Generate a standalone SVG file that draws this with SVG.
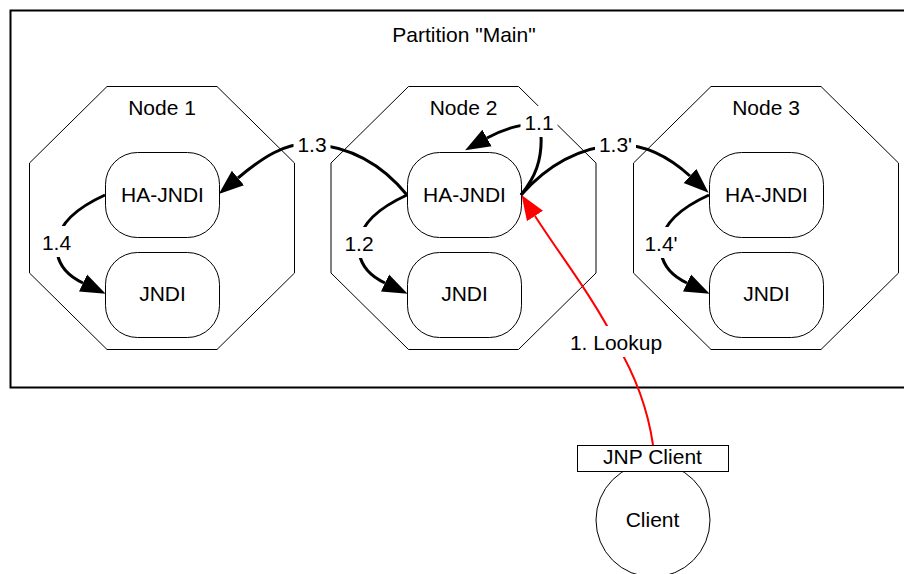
<svg xmlns="http://www.w3.org/2000/svg" width="904" height="574" viewBox="0 0 904 574">
<style>
text{font-family:"Liberation Sans",Arial,Helvetica,sans-serif;font-size:21px;fill:#000;text-anchor:middle}
.oct{fill:#fff;stroke:#000;stroke-width:1}
.box{fill:#fff;stroke:#000;stroke-width:1}
.edge{fill:none;stroke:#000;stroke-width:3}
.red{fill:none;stroke:#ff0000;stroke-width:2}
.lbl{fill:#fff;stroke:none}
</style>
<defs>
<marker id="ah" viewBox="0 -10 26 20" markerWidth="26" markerHeight="20" refX="0" refY="0" orient="auto" markerUnits="userSpaceOnUse"><path d="M0,-9.5 L25,0 L0,9.5 z" fill="#000"/></marker>
<marker id="ahr" viewBox="0 -10 26 20" markerWidth="26" markerHeight="20" refX="0" refY="0" orient="auto" markerUnits="userSpaceOnUse"><path d="M0,-9.5 L25,0 L0,9.5 z" fill="#ff0000"/></marker>
</defs>
<rect width="904" height="574" fill="#fff"/>
<g id="partition">
<rect x="10.5" y="10.5" width="1000" height="377" fill="#fff" stroke="#000" stroke-width="2"/>
<text x="464" y="42">Partition "Main"</text>
</g>
<g id="node1">
<polygon class="oct" points="107,86.5 217,86.5 294.5,163 294.5,273 217,349.5 107,349.5 29.5,273 29.5,163"/>
<text x="162" y="115">Node 1</text>
</g>
<g id="node2">
<polygon class="oct" points="408.5,86.5 518.5,86.5 596,163 596,273 518.5,349.5 408.5,349.5 331,273 331,163"/>
<text x="463.5" y="115">Node 2</text>
</g>
<g id="node3">
<polygon class="oct" points="711,86.5 821,86.5 898.5,163 898.5,273 821,349.5 711,349.5 633.5,273 633.5,163"/>
<text x="766" y="115">Node 3</text>
</g>
<g id="n1-hajndi"><rect class="box" x="105.5" y="152.5" width="114" height="85" rx="32" ry="32"/><text x="162.5" y="202">HA-JNDI</text></g>
<g id="n1-jndi"><rect class="box" x="105.5" y="252.5" width="114" height="85" rx="32" ry="32"/><text x="162.5" y="301">JNDI</text></g>
<g id="n2-hajndi"><rect class="box" x="407.5" y="152.5" width="114" height="85" rx="32" ry="32"/><text x="464.5" y="202">HA-JNDI</text></g>
<g id="n2-jndi"><rect class="box" x="407.5" y="252.5" width="114" height="85" rx="32" ry="32"/><text x="464.5" y="301">JNDI</text></g>
<g id="n3-hajndi"><rect class="box" x="709.5" y="152.5" width="114" height="85" rx="32" ry="32"/><text x="766.5" y="202">HA-JNDI</text></g>
<g id="n3-jndi"><rect class="box" x="709.5" y="252.5" width="114" height="85" rx="32" ry="32"/><text x="766.5" y="301">JNDI</text></g>
<g id="client">
<circle cx="653" cy="520" r="57" fill="#fff" stroke="#000" stroke-width="1"/>
<text x="652.5" y="527">Client</text>
</g>
<g id="jnp-client">
<rect x="577.5" y="445.5" width="151" height="26" fill="#fff" stroke="#000" stroke-width="1"/>
<text x="652.5" y="464">JNP Client</text>
</g>
<g id="connectors">
<path class="edge" d="M407,195 C385,168 355,147 312,144 C285,142 262,158 238,178" marker-end="url(#ah)"/>
<path class="edge" d="M521,195 C545,168 575,148 615,145 C645,143 670,158 690,176" marker-end="url(#ah)"/>
<path class="edge" d="M521,195 C533,180 545,160 540,125 C528,122 505,128 487,138" marker-end="url(#ah)"/>
<path class="edge" d="M407,195 C385,205 362,220 359,242 C357,262 368,275 385,283" marker-end="url(#ah)"/>
<path class="edge" d="M105,195 C83,205 60,220 57,242 C55,262 66,275 83,283" marker-end="url(#ah)"/>
<path class="edge" d="M709,195 C687,205 664,220 661,242 C659,262 670,275 687,283" marker-end="url(#ah)"/>
<path class="red" d="M653,445 C648,410 635,375 616,343 C595,300 560,255 535,216" marker-end="url(#ahr)"/>
<rect class="lbl" x="293.5" y="128" width="37" height="31"/><text x="312" y="152">1.3</text>
<rect class="lbl" x="595" y="128" width="41" height="31"/><text x="615.5" y="152">1.3'</text>
<rect class="lbl" x="520.5" y="106" width="37" height="31"/><text x="539" y="130">1.1</text>
<rect class="lbl" x="340.5" y="227" width="37" height="31"/><text x="359" y="251">1.2</text>
<rect class="lbl" x="38" y="226" width="37" height="31"/><text x="56.5" y="250">1.4</text>
<rect class="lbl" x="640.5" y="227" width="41" height="31"/><text x="661" y="251">1.4'</text>
<rect class="lbl" x="566" y="326" width="100" height="31"/><text x="616" y="350">1. Lookup</text>
</g>
</svg>
